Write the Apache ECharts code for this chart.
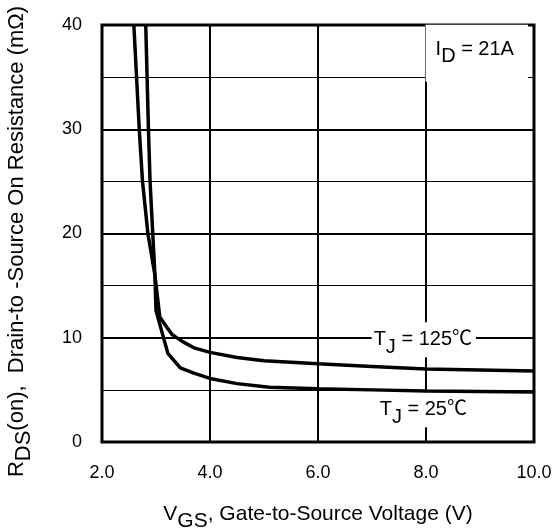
<!DOCTYPE html>
<html>
<head>
<meta charset="utf-8">
<script src="https://cdn.jsdelivr.net/npm/echarts@6/dist/echarts.min.js"></script>
<style>
  html, body { margin: 0; padding: 0; background: #fff; }
  #chart { width: 555px; height: 531px; }
</style>
</head>
<body>
<div id="chart"></div>
<script>
// data: [VGS (V), RDS(on) (mOhm)]
const hotCurve = [
  [2.59, 40], [2.69, 30], [2.75, 25], [2.85, 20], [2.98, 16], [3.07, 12],
  [3.2, 11], [3.3, 10.3], [3.5, 9.6], [3.72, 9.0], [4.0, 8.6], [4.5, 8.1],
  [5.0, 7.8], [6.0, 7.5], [7.0, 7.25], [8.0, 7.0], [9.0, 6.9], [10.0, 6.8]
]
const coldCurve = [
  [2.81, 40], [2.86, 30], [2.89, 25], [2.94, 20], [2.98, 16], [3.0, 12.6],
  [3.22, 8.5], [3.45, 7.1], [3.7, 6.6], [4.0, 6.1], [4.5, 5.6], [5.1, 5.25],
  [6.0, 5.1], [7.0, 5.0], [8.0, 4.9], [9.0, 4.85], [10.0, 4.8]
]
const xTicks = [2, 10, 2]   // min, max, interval
const yTicks = [0, 40, 10]

const font = 'Liberation Sans, Arial, Noto Sans CJK SC, sans-serif'
const chart = echarts.init(document.getElementById('chart'))

// same-size subscript, pushed down with top padding
const richSub = (size) => ({
  n: { fontSize: size, fontFamily: font, color: '#000' },
  s: { fontSize: size, fontFamily: font, color: '#000', padding: [15, 0, 0, 0] }
})

function tag(coord, text, pad) {
  return {
    coord: coord,
    label: {
      show: true,
      position: 'inside',
      formatter: text,
      rich: richSub(20),
      backgroundColor: '#fff',
      padding: pad
    }
  }
}

chart.setOption({
  animation: false,
  grid: {
    left: 102, right: 21, top: 25, bottom: 89,
    outerBoundsMode: 'none',
    containLabel: false,
    show: true, borderColor: '#000', borderWidth: 3, backgroundColor: 'transparent'
  },
  xAxis: {
    type: 'value',
    min: xTicks[0], max: xTicks[1], interval: xTicks[2],
    axisLine: { show: false },
    axisTick: { show: false },
    axisLabel: {
      margin: 22, fontSize: 18, fontFamily: font, color: '#000',
      formatter: (v) => v.toFixed(1)
    },
    splitLine: { show: true, lineStyle: { color: '#000', width: 2 } },
    name: '{n|V}{s|GS}{n|, Gate-to-Source Voltage (V)}',
    nameLocation: 'middle',
    nameGap: 54,
    nameTextStyle: { rich: richSub(21) }
  },
  yAxis: {
    type: 'value',
    min: yTicks[0], max: yTicks[1], interval: yTicks[2],
    axisLine: { show: false },
    axisTick: { show: false },
    axisLabel: { margin: 20, fontSize: 18, fontFamily: font, color: '#000' },
    splitLine: { show: true, lineStyle: { color: '#000', width: 2 } },
    minorTick: { show: false, splitNumber: 2 },
    minorSplitLine: { show: true, lineStyle: { color: '#000', width: 1 } },
    name: '{n|R}{s|DS}{n|(on),  Drain-to -Source On Resistance (mΩ)}',
    nameLocation: 'middle',
    nameRotate: 90,
    nameGap: 67,
    nameTextStyle: { rich: richSub(22), padding: [0, 16, 0, 0] }
  },
  series: [
    {
      name: 'TJ = 125',
      type: 'line',
      data: hotCurve,
      showSymbol: false,
      symbol: 'none',
      lineStyle: { color: '#000', width: 3.5 },
      z: 3,
      markPoint: {
        z: 1,
        symbol: 'circle',
        symbolSize: 0,
        data: [
          tag([8.94, 37.3], '{n|I}{s|D}{n| = 21A}', [7, 14, 15, 10]),
          tag([7.96, 9.8], '{n|T}{s|J}{n| = 125℃}', [0, 4, 0, 2])
        ]
      }
    },
    {
      name: 'TJ = 25',
      type: 'line',
      data: coldCurve,
      showSymbol: false,
      symbol: 'none',
      lineStyle: { color: '#000', width: 3.5 },
      z: 3,
      markPoint: {
        z: 1,
        symbol: 'circle',
        symbolSize: 0,
        data: [
          tag([7.95, 3.1], '{n|T}{s|J}{n| = 25℃}', [0, 2, 0, 2])
        ]
      }
    }
  ]
})
</script>
</body>
</html>
